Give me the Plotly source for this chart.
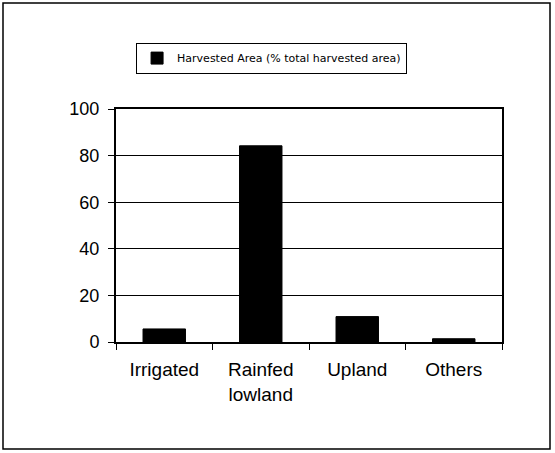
import plotly.graph_objects as go

categories = ["Irrigated", "Rainfed<br>lowland", "Upland", "Others"]
harvested_area = [5.6, 84.2, 10.9, 1.4]
series_name = "Harvested Area (% total harvested area)"
y_ticks = [0, 20, 40, 60, 80, 100]

_FONT = dict(family="Liberation Sans, Arial, sans-serif", color="#000000", size=18)

fig = go.Figure()
fig.add_trace(
    go.Bar(
        x=categories,
        y=harvested_area,
        name=series_name,
        marker=dict(color="#000000", line=dict(color="#000000", width=1)),
        showlegend=True,
    )
)

fig.update_layout(
    width=555,
    height=453,
    paper_bgcolor="#ffffff",
    plot_bgcolor="#ffffff",
    font=_FONT,
    bargap=0.56,
    margin=dict(l=116, r=53, t=109, b=111),
    legend=dict(
        x=0.052, y=1.285, xanchor="left", yanchor="top",
        bgcolor="#ffffff", bordercolor="#000000", borderwidth=1,
        font=dict(family="DejaVu Sans, sans-serif", size=11, color="#000000"),
        itemwidth=30,
    ),
    shapes=[
        dict(
            type="rect", xref="paper", yref="paper",
            x0=-113 / 386, x1=434 / 386, y0=-107 / 233, y1=106 / 233 + 1,
            line=dict(color="#000000", width=1.5), layer="below",
        )
    ],
)
fig.update_xaxes(
    showline=True, linecolor="#000000", linewidth=2, mirror=True,
    ticks="outside", tickson="boundaries", ticklen=6, tickcolor="#000000", tickwidth=1,
    ticklabelstandoff=9, showgrid=False, tickfont=dict(size=19),
)
fig.update_yaxes(
    range=[0, 100], tickvals=y_ticks,
    showline=True, linecolor="#000000", linewidth=2, mirror=True,
    ticks="outside", ticklen=6, tickcolor="#000000", tickwidth=1,
    showgrid=True, gridcolor="#000000", gridwidth=1, zeroline=False,
    ticklabelstandoff=5,
)

fig.write_html(
    "out.html",
    config={"displayModeBar": False},
    post_script="document.body.style.margin='0';document.body.style.padding='0';",
)
